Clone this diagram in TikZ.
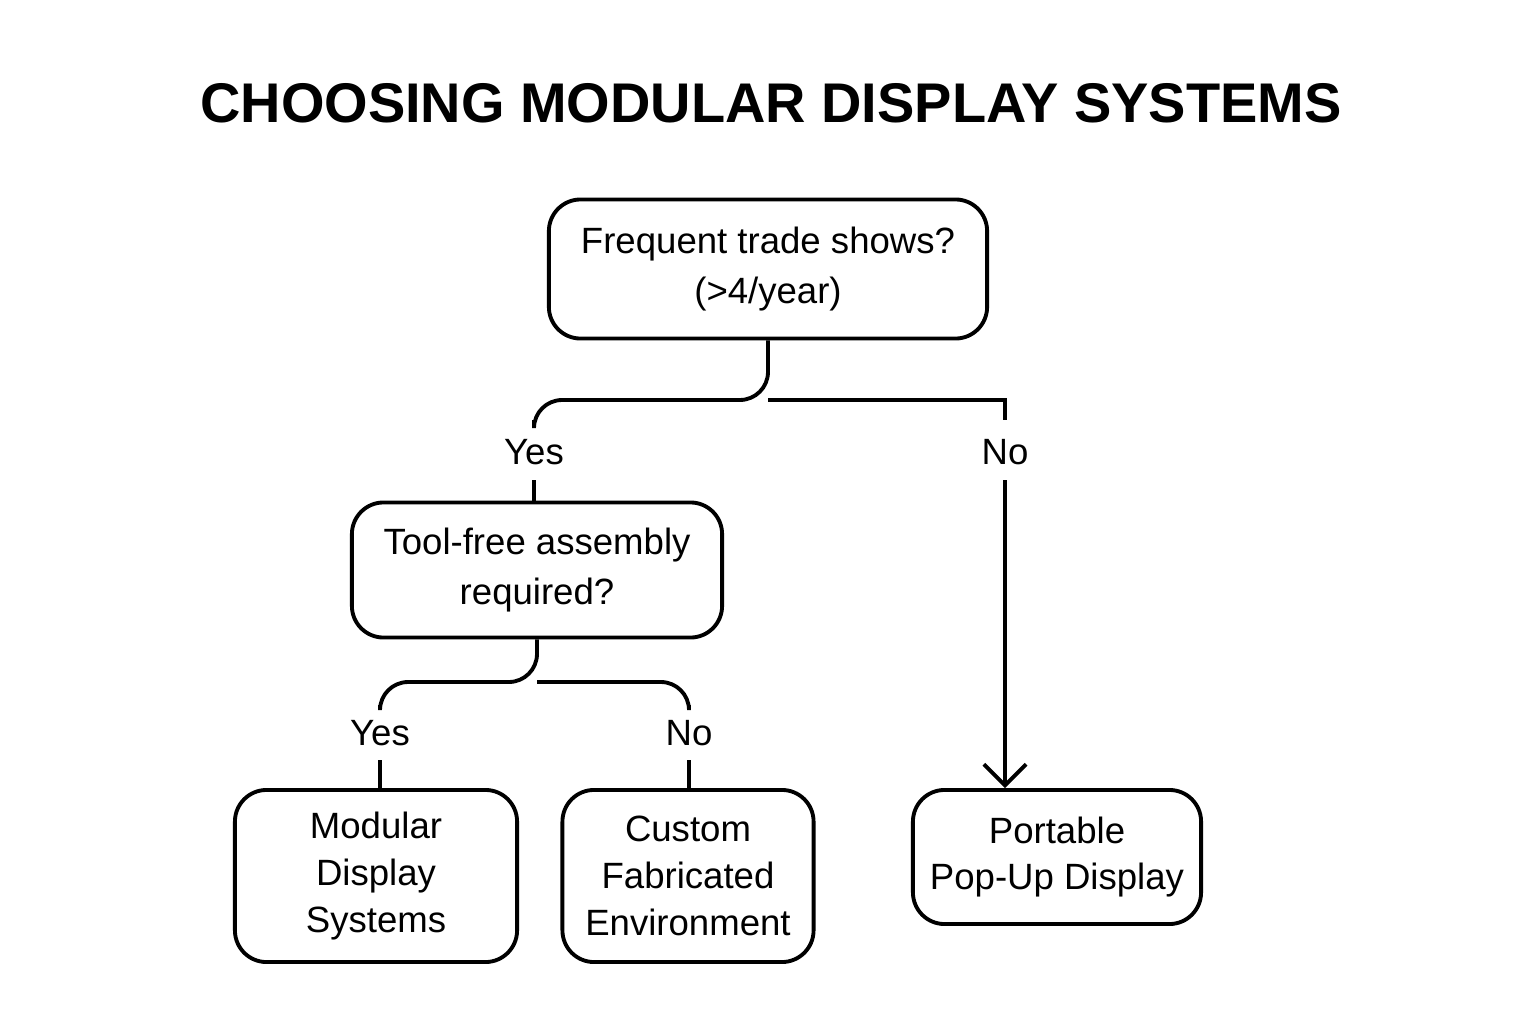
\documentclass[tikz,border=0pt]{standalone}
\usepackage{fontspec}
\setmainfont{Liberation Sans}
\usetikzlibrary{arrows.meta}
\begin{document}
\begin{tikzpicture}[x=0.01cm,y=-0.01cm,line width=1.1pt]
	\tikzstyle{box}=[draw=black, rounded corners=9pt, align=center, font=\fontsize{10.4}{13.3}\selectfont, inner sep=0pt]
	\tikzstyle{lbl}=[font=\fontsize{10.4}{12}\selectfont, inner sep=0pt]
	\useasboundingbox (0,0) rectangle (1536,1024);

	% TITRE
	\node[font=\fontsize{15.9}{20}\bfseries\selectfont] (T) at (771,103) {CHOOSING MODULAR DISPLAY SYSTEMS};

	% BOITES
	\node[box, minimum width=4.38cm, minimum height=1.39cm] (Q0) at (768,269) {Frequent trade shows?\\[1pt](>4/year)};
	\node[box, minimum width=3.70cm, minimum height=1.35cm] (Q1) at (537,570) {Tool-free assembly\\[1pt]required?};
	\node[box, minimum width=2.82cm, minimum height=1.72cm] (R1) at (376,876) {Modular\\Display\\Systems};
	\node[box, minimum width=2.51cm, minimum height=1.72cm] (R2) at (688,876) {Custom\\Fabricated\\Environment};
	\node[box, minimum width=2.88cm, minimum height=1.34cm] (R3) at (1057,857) {Portable\\Pop-Up Display};

	% ETIQUETTES
	\node[lbl] (Y0) at (534,452) {Yes};
	\node[lbl] (N0) at (1005,452) {No};
	\node[lbl] (Y1) at (380,733) {Yes};
	\node[lbl] (N1) at (689,733) {No};

	% LIENS
	\draw[rounded corners=8pt] (Q0.south) -- (768,400) -| (Y0.north |- 0,420);
	\draw (768,400) -- (1005,400) -- (N0.north |- 0,420);
	\draw (Y0.south |- 0,480) -- (Q1.north -| Y0.south);
	\draw[-{Straight Barb[length=6pt]}] (N0.south |- 0,480) -- (R3.north -| N0.south);
	\draw[rounded corners=8pt] (Q1.south) -- (537,682) -| (Y1.north |- 0,705);
	\draw[rounded corners=8pt] (537,682) -| (N1.north |- 0,705);
	\draw (Y1.south |- 0,760) -- (R1.north -| Y1.south);
	\draw (N1.south |- 0,760) -- (R2.north -| N1.south);
\end{tikzpicture}
\end{document}
